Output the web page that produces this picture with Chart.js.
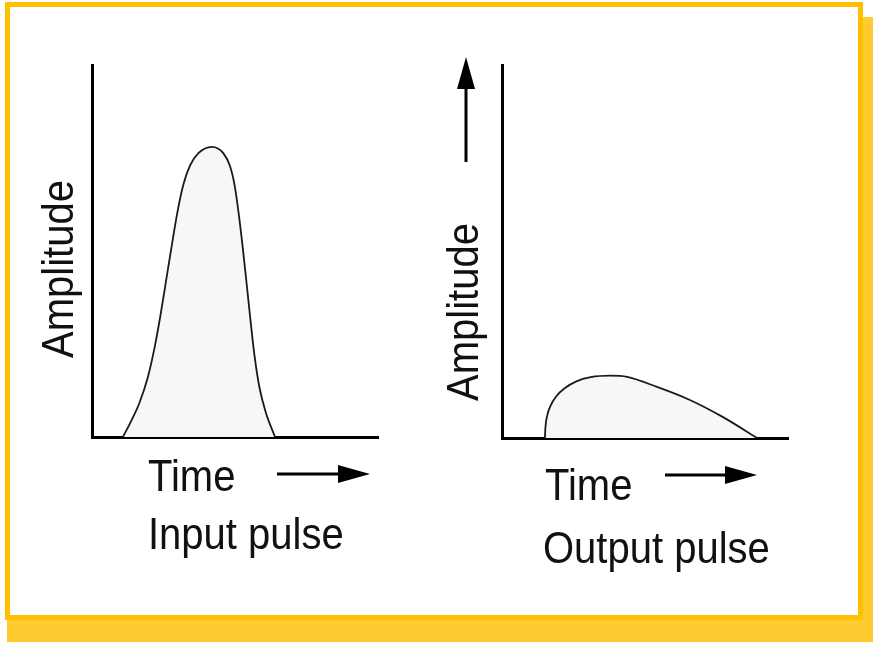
<!DOCTYPE html>
<html>
<head>
<meta charset="utf-8">
<script src="https://cdn.jsdelivr.net/npm/chart.js"></script>
<style>
    body { margin: 0; background: #fff; width: 873px; height: 647px; position: relative; overflow: hidden; }
    #shadow { position: absolute; left: 7px; top: 17px; width: 866px; height: 625px; background: #ffcb30; }
    #frame { position: absolute; left: 5px; top: 2px; width: 858px; height: 618px; box-sizing: border-box;
             border: 5px solid #ffc000; background: #fff; }
    canvas { position: absolute; top: 0; }
    #inputChart { left: 0; }
    #outputChart { left: 436px; }
</style>
</head>
<body>
<div id="shadow"></div>
<div id="frame"></div>
<canvas id="inputChart" width="436" height="647"></canvas>
<canvas id="outputChart" width="437" height="647"></canvas>
<script>
    // input pulse (time / amplitude, 0..100 on both axes)
    var inputTime = [10.8, 13.5, 16.5, 19.5, 22.0, 24.0, 26.0, 28.0, 30.0, 32.0, 34.3, 37.2, 41.9,
                     45.9, 48.3, 49.9, 51.3, 52.7, 54.1, 55.4, 56.8, 58.5, 60.8, 64.0];
    var inputAmp  = [0, 4.0, 9.0, 16.0, 24.5, 33.0, 42.5, 52.0, 61.0, 68.0, 73.0, 76.3, 78.0,
                     76.3, 72.7, 67.5, 60.0, 51.0, 41.0, 31.5, 22.0, 13.5, 6.5, 0];

    // output pulse
    var outputTime = [15.0, 15.2, 15.8, 17.0, 19.0, 22.0, 26.0, 31.0, 37.8, 43.7, 54.2, 65.7, 77.3, 89.2];
    var outputAmp  = [0, 3.0, 6.0, 8.7, 11.2, 13.4, 15.2, 16.3, 16.7, 16.4, 13.7, 10.2, 5.6, 0];

    var yLabel = 'Amplitude';
    var xLabel = 'Time';
    var pulseNames = ['Input pulse', 'Output pulse'];

    function toPoints(xs, ys) {
        return xs.map(function (x, i) { return { x: x, y: ys[i] }; });
    }

    function stretchedText(ctx, text, x, y, rotate) {
        ctx.save();
        ctx.translate(x, y);
        if (rotate) ctx.rotate(-Math.PI / 2);
        ctx.scale(1, 1.12);
        ctx.fillText(text, 0, 0);
        ctx.restore();
    }

    function arrow(ctx, x1, y1, x2, y2) {
        var ang = Math.atan2(y2 - y1, x2 - x1);
        var len = 32, half = 9;
        ctx.save();
        ctx.strokeStyle = '#000';
        ctx.fillStyle = '#000';
        ctx.lineWidth = 3;
        ctx.beginPath();
        ctx.moveTo(x1, y1);
        ctx.lineTo(x2 - Math.cos(ang) * (len - 2), y2 - Math.sin(ang) * (len - 2));
        ctx.stroke();
        ctx.translate(x2, y2);
        ctx.rotate(ang);
        ctx.beginPath();
        ctx.moveTo(0, 0);
        ctx.lineTo(-len, -half);
        ctx.lineTo(-len, half);
        ctx.closePath();
        ctx.fill();
        ctx.restore();
    }

    // labels and arrows, placed from the chart area
    var labelPlugin = {
        id: 'pulseLabels',
        afterDraw: function (chart, args, o) {
            var ctx = chart.ctx, a = chart.chartArea;
            ctx.save();
            ctx.fillStyle = '#111';
            ctx.font = '40px "Liberation Sans", Arial, sans-serif';
            ctx.textBaseline = 'alphabetic';

            ctx.textAlign = 'center';
            stretchedText(ctx, yLabel, a.left + o.ampX, a.top + o.ampY, true);

            ctx.textAlign = 'left';
            stretchedText(ctx, xLabel, a.left + o.timeX, a.bottom + o.timeY, false);
            stretchedText(ctx, o.name, a.left + o.nameX, a.bottom + o.nameY, false);
            ctx.restore();

            arrow(ctx, a.left + o.arrX1, a.bottom + 37, a.left + o.arrX2, a.bottom + 37);
            if (o.upArrow) {
                arrow(ctx, a.left - 36, a.top + 97, a.left - 36, a.top - 8);
            }
        }
    };

    function makeChart(id, pts, padding, lbl) {
        return new Chart(document.getElementById(id), {
            type: 'line',
            data: {
                datasets: [{
                    data: pts,
                    borderColor: '#1a1a1a',
                    borderWidth: 1.8,
                    backgroundColor: '#f7f7f7',
                    fill: 'origin',
                    pointRadius: 0,
                    cubicInterpolationMode: 'monotone'
                }]
            },
            options: {
                responsive: false,
                animation: false,
                layout: { padding: padding },
                plugins: {
                    legend: { display: false },
                    tooltip: { enabled: false },
                    pulseLabels: lbl
                },
                scales: {
                    x: {
                        type: 'linear', min: 0, max: 100,
                        grid: { display: false, drawTicks: false },
                        ticks: { display: false },
                        border: { color: '#000', width: 3 }
                    },
                    y: {
                        min: 0, max: 100,
                        grid: { display: false, drawTicks: false },
                        ticks: { display: false },
                        border: { color: '#000', width: 3 }
                    }
                }
            },
            plugins: [labelPlugin]
        });
    }

    makeChart('inputChart', toPoints(inputTime, inputAmp),
        { left: 92, top: 65, right: 58, bottom: 210 },
        { name: pulseNames[0], ampX: -19, ampY: 204, timeX: 56, timeY: 54, nameX: 56, nameY: 112,
          arrX1: 185, arrX2: 278, upArrow: false });

    makeChart('outputChart', toPoints(outputTime, outputAmp),
        { left: 66, top: 65, right: 85, bottom: 209 },
        { name: pulseNames[1], ampX: -24, ampY: 247, timeX: 43, timeY: 62, nameX: 41, nameY: 125,
          arrX1: 163, arrX2: 255, upArrow: true });
</script>
</body>
</html>
